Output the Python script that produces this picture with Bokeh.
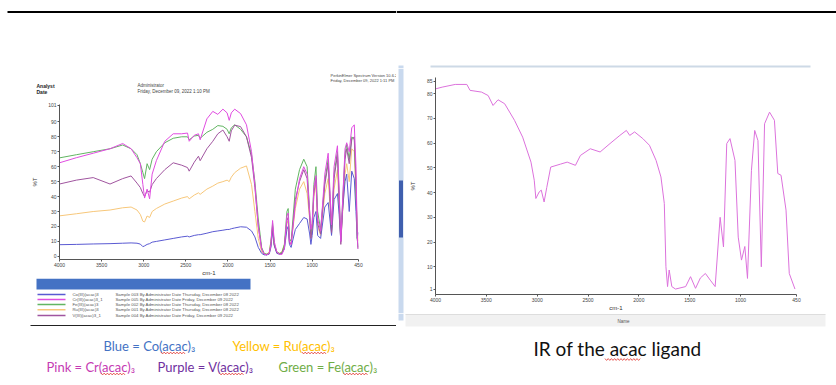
from bokeh.plotting import figure
from bokeh.layouts import row, column
from bokeh.models import Range1d, FixedTicker
from bokeh.embed import file_html
from bokeh.resources import INLINE
from bokeh.core.properties import value

# ---------------- data ----------------
# left panel: five metal acac complexes, shared wavenumber grid (cm-1)
L_WN = [4000, 3800, 3600, 3400, 3250, 3150, 3080, 3040, 3010, 2990,
        2960, 2930, 2900, 2850, 2750, 2650, 2550, 2480, 2460, 2400,
        2350, 2330, 2250, 2180, 2120, 2060, 2010, 1985, 1960, 1920,
        1850, 1780, 1720, 1680, 1640, 1600, 1570, 1540, 1510, 1490,
        1470, 1450, 1420, 1390, 1360, 1330, 1300, 1285, 1270, 1250,
        1200, 1150, 1100, 1060, 1030, 1015, 1000, 980, 955, 935,
        900, 850, 810, 790, 770, 740, 700, 680, 660, 640,
        610, 590, 560, 530, 500, 480, 465, 455]

CO_T = [7.8, 8.0, 8.3, 8.5, 8.8, 9.0, 8.8, 8.2, 6.5, 7.0,
        8.0, 8.5, 9.5, 10, 11, 12, 13, 13.5, 13, 14,
        14.5, 14.5, 15.5, 16.5, 17, 17.5, 18, 18, 18.5, 19,
        19.8, 19.5, 17, 13, 6, 2, 1, 1, 1.5, 6,
        17, 7, 2, 1.5, 2, 5, 18, 20, 8, 6,
        18, 22, 26, 25, 15, 8, 14, 26, 30, 14,
        12, 33, 36, 25, 14, 38, 42, 28, 10, 30,
        50, 55, 30, 57, 52, 30, 12, 16]

CR_T = [62.6, 66, 69, 72, 75.5, 72, 66, 62, 48, 39,
        45, 38.5, 55, 64, 77, 82, 82, 82.5, 77, 81,
        82, 78, 92, 97, 95, 98.5, 96, 91, 96, 98.5,
        95.5, 88, 70, 48, 20, 5, 1.5, 1, 2, 8,
        24, 10, 3, 1.5, 1.2, 5, 27, 29, 10, 8,
        35, 52, 60, 55, 30, 18, 22, 45, 54, 25,
        17, 55, 69, 45, 21, 60, 74, 45, 10, 35,
        72, 76, 70, 86, 88, 60, 15, 5]

FE_T = [65.9, 68, 70, 72, 74.5, 72, 68, 62, 56, 52,
        62, 58, 65, 70, 76, 79, 80, 80, 78, 80.5,
        81, 79, 83, 85, 87.5, 87, 85, 82, 86, 88,
        85, 80, 68, 50, 25, 6, 2, 1.5, 2, 10,
        22, 8, 3, 2, 2.5, 8, 30, 32, 12, 10,
        45, 58, 65, 60, 30, 15, 22, 48, 60, 30,
        18, 50, 65, 42, 18, 55, 70, 40, 12, 35,
        68, 75, 65, 80, 78, 45, 12, 6]

V_T = [48.4, 51, 52.7, 48.4, 52, 53.8, 49, 46, 42, 40,
       44, 43, 48, 52, 58, 62.6, 61, 59.4, 57, 63,
       67, 64, 72, 77, 82, 84.5, 80, 77, 84, 87.8,
       86.8, 80, 66, 46, 20, 5, 1.5, 1, 2, 7,
       20, 8, 2.5, 1.5, 2, 6, 24, 26, 9, 8,
       38, 50, 58, 52, 26, 12, 18, 42, 52, 22,
       15, 48, 62, 40, 16, 52, 68, 38, 8, 30,
       65, 72, 62, 78, 80, 50, 12, 5]

RU_T = [27.1, 28.5, 30, 31, 32.5, 33, 31, 28, 23.5, 23,
        27, 26, 30, 32, 35, 37, 39, 40, 38.5, 41,
        42.5, 41.5, 45, 47, 49, 50, 51, 50, 53, 56,
        59, 60.5, 48, 30, 12, 3, 1.5, 1.5, 3, 10,
        18, 8, 3, 2, 3, 8, 22, 24, 10, 8,
        32, 45, 50, 42, 25, 12, 20, 40, 48, 20,
        14, 42, 52, 35, 15, 45, 58, 32, 10, 28,
        55, 62, 50, 72, 70, 40, 20, 10]

SERIES_NAMES = ["Co(III)(acac)3", "Cr(III)(acac)3_1", "Fe(III)(acac)3",
                "Ru(III)(acac)3", "V(III)(acac)3_1"]
SERIES_SAMPLES = ["Sample 003 By Administrator Date Thursday, December 08 2022",
                  "Sample 005 By Administrator Date Friday, December 09 2022",
                  "Sample 002 By Administrator Date Thursday, December 08 2022",
                  "Sample 001 By Administrator Date Thursday, December 08 2022",
                  "Sample 004 By Administrator Date Friday, December 09 2022"]
SERIES_COLORS = ["#5a5ad2", "#e04ce0", "#62b562", "#f7c77a", "#a0559f"]

L_XTICKS = [4000, 3500, 3000, 2500, 2000, 1500, 1000, 450]
L_YTICKS = [0, 10, 20, 30, 40, 50, 60, 70, 80, 90, 101]

# right panel: the free acac ligand
LIG_WN = [4000, 3935, 3806, 3692, 3660, 3547, 3482, 3434, 3385, 3320,
          3223, 3143, 3061, 3029, 3013, 2981, 2960, 2932, 2906, 2867,
          2770, 2705, 2624, 2575, 2478, 2381, 2284, 2187, 2123, 2090,
          2042, 1961, 1896, 1831, 1783, 1750, 1734, 1718, 1702, 1676,
          1640, 1540, 1492, 1443, 1395, 1346, 1298, 1250, 1201, 1168,
          1136, 1104, 1055, 1023, 991, 958, 932, 893, 861, 829,
          796, 764, 715, 667, 634, 602, 553, 521, 465]
LIG_T = [81.9, 82.6, 83.7, 83.7, 81.3, 80.6, 79.2, 75.2, 77.5, 75.9,
         69.2, 62.4, 52.3, 45, 37.6, 40.2, 41, 36.2, 42, 50.3,
         51.5, 52.3, 51, 55, 57.7, 56.4, 59.8, 63.1, 65.1, 63.1,
         64.5, 61.8, 59.1, 53, 46.3, 35.6, 10, 2, 8.7, 2,
         1, 2, 6, 1.3, 5.5, 7.3, 4.6, 2, 30, 18,
         59.8, 61.8, 53, 22, 12.7, 18.2, 5.3, 49, 65.1, 61,
         10, 67.8, 72.5, 69.2, 47.7, 47, 32.9, 7.3, 1]

R_XTICKS = [4000, 3500, 3000, 2500, 2000, 1500, 1000, 450]
R_YTICKS = [1, 10, 20, 30, 40, 50, 60, 70, 80, 85]

CAPTIONS = ["Blue = Co(acac)\u2083", "Yellow = Ru(acac)\u2083",
            "Pink = Cr(acac)\u2083", "Purple = V(acac)\u2083", "Green = Fe(acac)\u2083"]
CAPTION_COLORS = ["#4472C4", "#FFC000", "#C53AB3", "#7030A0", "#70AD47"]
LIGAND_TITLE = "IR of the acac ligand"

TICK_FONT = "Liberation Sans"
CAP_FONT = "Lato"


# ---------------- helpers ----------------
def deco(w, h):
    p = figure(width=w, height=h, x_range=Range1d(0, w), y_range=Range1d(h, 0),
               output_backend="svg", toolbar_location=None, title=None,
               x_axis_location=None, y_axis_location=None,
               min_border=0, min_border_left=0, min_border_right=0,
               min_border_top=0, min_border_bottom=0, frame_align=False,
               outline_line_color=None, background_fill_color="white",
               border_fill_color="white")
    p.grid.visible = False
    return p


def spec(w, h, xr, yr, left, right, top, bottom):
    p = figure(width=w, height=h, x_range=Range1d(*xr), y_range=Range1d(*yr),
               output_backend="svg", toolbar_location=None, title=None,
               min_border_left=left, min_border_right=right,
               min_border_top=top, min_border_bottom=bottom, frame_align=False,
               outline_line_color=None, background_fill_color="white",
               border_fill_color="white")
    p.grid.visible = False
    for ax in (p.xaxis[0], p.yaxis[0]):
        ax.major_label_text_font = TICK_FONT
        ax.major_label_text_font_size = "5px"
        ax.major_label_text_color = "#444444"
        ax.axis_line_color = "#555555"
        ax.major_tick_line_color = "#555555"
        ax.major_tick_in = 0
        ax.major_tick_out = 2
        ax.minor_tick_line_color = None
        ax.major_label_standoff = 1
        ax.axis_label_text_font = TICK_FONT
        ax.axis_label_text_font_size = "6px"
        ax.axis_label_text_font_style = "normal"
        ax.axis_label_text_color = "#333333"
    return p


def txt(p, x, y, s, size, color="#444444", font=TICK_FONT, style="normal", align="left"):
    p.text(x=[x], y=[y], text=[s], text_font=value(font), text_font_size=size,
           text_color=color, text_font_style=style, text_baseline="middle",
           text_align=align)


def squiggle(p, x0, x1, y, step=1.6, amp=0.9):
    xs, ys = [], []
    k = 0
    x = x0
    while x <= x1:
        xs.append(x)
        ys.append(y + (amp if k % 2 else -amp))
        x += step
        k += 1
    p.line(xs, ys, line_color="#e0302a", line_width=0.8)


# ---------------- left column (page x 0..396) ----------------
LW = 396
l_head = deco(LW, 96)
l_head.line([7, LW], [11.5, 11.5], line_color="black", line_width=2)
txt(l_head, 36, 85, "Analyst", "5px", "#222222", style="bold")
txt(l_head, 36, 91, "Date", "5px", "#222222", style="bold")
txt(l_head, 137, 85, "Administrator", "4.5px", "#444444")
txt(l_head, 137, 91, "Friday, December 09, 2022 1:10 PM", "4.5px", "#444444")
txt(l_head, 330, 75, "PerkinElmer Spectrum Version 10.6.2", "4px", "#444444")
txt(l_head, 330, 80, "Friday, December 09, 2022 1:11 PM", "4px", "#444444")

l_spec = spec(LW, 182, (4000, 450), (-2.1, 101.6), 59, 38, 8, 16)
l_spec.xaxis[0].ticker = FixedTicker(ticks=L_XTICKS)
l_spec.yaxis[0].ticker = FixedTicker(ticks=L_YTICKS)
l_spec.xaxis[0].axis_label = "cm-1"
l_spec.xaxis[0].axis_label_standoff = 0
l_spec.yaxis[0].axis_label = "%T"
l_spec.yaxis[0].axis_label_standoff = 7
series = [(RU_T, 3), (CO_T, 0), (FE_T, 2), (V_T, 4), (CR_T, 1)]
for ys, ci in series:
    l_spec.line(L_WN, ys, line_color=SERIES_COLORS[ci], line_width=1)

l_leg = deco(LW, 107)
l_leg.quad(left=[36], right=[250], top=[0], bottom=[11], fill_color="#4472C4", line_color=None)
rows_y = [16, 21, 26, 31.3, 37]
for i in range(len(SERIES_NAMES)):
    l_leg.line([37, 65], [rows_y[i], rows_y[i]], line_color=SERIES_COLORS[i], line_width=1.5)
    txt(l_leg, 72, rows_y[i], SERIES_NAMES[i], "4.3px", "#555555")
    txt(l_leg, 115, rows_y[i], SERIES_SAMPLES[i], "4.3px", "#555555")
l_leg.line([30, LW], [47, 47], line_color="#222222", line_width=1.2)
cap_pos = [(103, 67), (232, 67), (46, 88), (157, 88), (278, 88)]
for (cx, cy), s, c in zip(cap_pos, CAPTIONS, CAPTION_COLORS):
    txt(l_leg, cx, cy, s, "13px", c, font=CAP_FONT)
# spelling-check squiggles under "acac"
for x0, x1, yy in [(160.5, 185, 74.5), (301.5, 326, 74.5), (100.5, 125, 95.5),
                   (219, 243.5, 95.5), (343, 367.5, 95.5)]:
    squiggle(l_leg, x0, x1, yy)

left_col = column(l_head, l_spec, l_leg, spacing=0)

# ---------------- right column (page x 396..836) ----------------
RW = 440
r_head = deco(RW, 68)
r_head.line([0, RW], [11.5, 11.5], line_color="black", line_width=2)
r_head.line([34, 414], [66, 66], line_color="#cdd9e6", line_width=2)
r_head.quad(left=[2], right=[7], top=[65], bottom=[68], fill_color="#c9d9ee", line_color=None)

r_side = deco(10, 245)
r_side.quad(left=[2], right=[7], top=[0], bottom=[245], fill_color="#c9d9ee", line_color=None)
r_side.quad(left=[2.5], right=[6.5], top=[112], bottom=[169], fill_color="#3f5fae", line_color=None)

r_spec = spec(430, 245, (4000, 450), (-1.2, 86.5), 24, 40, 9, 18)
r_spec.xaxis[0].ticker = FixedTicker(ticks=R_XTICKS)
r_spec.yaxis[0].ticker = FixedTicker(ticks=R_YTICKS)
r_spec.xaxis[0].axis_label = "cm-1"
r_spec.xaxis[0].axis_label_standoff = 0
r_spec.yaxis[0].axis_label = "%T"
r_spec.yaxis[0].axis_label_standoff = 8
r_spec.line(LIG_WN, LIG_T, line_color="#dc72dc", line_width=1)

r_cap = deco(RW, 72)
r_cap.quad(left=[9], right=[429], top=[1], bottom=[13], fill_color="#f1f1f1", line_color=None)
r_cap.line([9, 429], [1, 1], line_color="#dddddd", line_width=1)
r_cap.quad(left=[2], right=[7], top=[0], bottom=[7], fill_color="#c9d9ee", line_color=None)
txt(r_cap, 227, 8, "Name", "4.5px", "#555555", align="center")
txt(r_cap, 137, 35, LIGAND_TITLE, "19px", "#111111", font=CAP_FONT)
squiggle(r_cap, 208.5, 244, 46)

right_col = column(r_head, row(r_side, r_spec, spacing=0), r_cap, spacing=0)

page = row(left_col, right_col, spacing=0)

with open("out.html", "w") as f:
    f.write(file_html(page, INLINE))
